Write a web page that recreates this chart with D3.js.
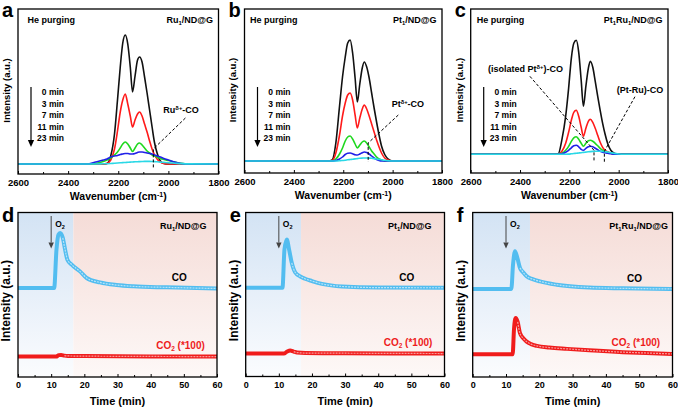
<!DOCTYPE html>
<html>
<head>
<meta charset="utf-8">
<script src="https://cdn.jsdelivr.net/npm/d3@7"></script>
<style>
  body { margin: 0; background: #fff; }
  text { font-family: Arial, "Liberation Sans", sans-serif; font-weight: bold; }
</style>
</head>
<body>
<svg id="fig" width="678" height="407"></svg>
<script>
// ---------- data ----------
// wavenumber grid (cm-1) shared by every DRIFTS spectrum
const wave = [2600, 2320, 2290, 2260, 2245, 2230, 2215, 2203, 2192, 2182, 2172, 2162, 2152, 2143, 2133,
              2123, 2115, 2105, 2095, 2085, 2075, 2065, 2055, 2045, 2032, 2018, 2000, 1975, 1950, 1920, 1800];

// (a) Ru1/ND@G, He purging 0 / 3 / 7 / 11 / 23 min
const ru0  = [0,0,0,0,0.5,8,30,64,97,121,129,120,97,72,88,104,107,102,87,71,54,37,21,11,3,0.5,0,0,0,0,0];
const ru3  = [0,0,0,0,0.5,4,15,33,52,64,70,60,48,37,44,50,52,48,40,32,23,15,9,5,2,0.5,0,0,0,0,0];
const ru7  = [0,0,0.5,2.5,4,6,9,12,16,20,22,20,16,12.5,16,20,21,19,16,13,11,9,8,7,5.5,4.5,3.5,2,0.7,0,0];
const ru11 = [0,0,2,4,5,7,8,8.5,9.5,10,10.5,10.5,10,10,10.5,11.5,12,12,11.5,11,10.5,10,9,8,7,5.5,4,2,0.5,0,0];
const ru23 = [0,0,0,0.2,0.3,0.5,0.8,1,1.2,1.4,1.5,1.7,1.9,2,2.2,2.3,2.4,2.5,2.6,2.6,2.6,2.5,2.4,2.2,1.9,1.6,1.2,0.8,0.4,0.1,0];

// (b) Pt1/ND@G
const pt0  = [0,0,0,0,1,18,55,84,104,118,121,108,83,59,77,93,99,94,83,68,53,39,26,15,6.5,2,0,0,0,0,0];
const pt3  = [0,0,0,0,0.5,8,26,45,58,66,68,61,46,33,43,52,56,52,45,37,29,21,14,8,3,1,0,0,0,0,0];
const pt7  = [0,0,0,0,0,2,7,13,20,24,25,22,17,13,16,19,20,18,14,10,7,4,2,1,0,0,0,0,0,0,0];
const pt11 = [0,0,0,0,0,0.5,2,4,6.5,7.8,8,7.3,6.3,6,7,8.3,9,8.5,7,5,3,1.5,0.5,0,0,0,0,0,0,0,0];
const pt23 = [0,0,0,0,0,0,0.2,0.5,0.8,1.2,1.5,1.8,2.1,2.4,2.7,2.9,3,3,2.9,2.7,2.4,2,1.6,1.2,0.7,0.3,0,0,0,0,0];

// (c) Pt1Ru1/ND@G
const ptru0  = [0,0,0,0,0.5,15,38,66,96,111,114,102,74,48,68,86,93,87,73,58,44,31,20,11,4,1,0,0,0,0,0];
const ptru3  = [0,0,0,0,0,3,11,22,34,42,44,38,27,18,26,33,35,32,26,19,12,7,4,2.5,1,0,0,0,0,0,0];
const ptru7  = [0,0,0,0,0,1,4,8,13,16.5,17.6,15,11,8,11,13.5,14,13,11,8.5,6,4,3,2,1,0.5,0,0,0,0,0];
const ptru11 = [0,0,0,0,0,0.5,2,4,6.5,8.5,9,7.5,5,4,6,7.5,8,7.5,6,4.5,3,2,1.5,1,0.5,0,0,0,0,0,0];
const ptru23 = [0,0,0,0,0,0,0,0.2,0.5,0.8,1,1.3,1.6,1.9,2.2,2.5,2.7,2.9,3,3,3,2.9,2.7,2.3,1.6,0.9,0.3,0,0,0,0];

const purgeLabels = ["0 min", "3 min", "7 min", "11 min", "23 min"];
const waveTicks = [2600, 2400, 2200, 2000, 1800];
const waveMinor = [2500, 2300, 2100, 1900];

// (d)-(f) mass-spec transients after O2 pulse (time in min, intensity a.u.)
const ruCOt   = [0, 10.9, 11.6, 12.2, 12.7, 13.5, 14.2, 14.9, 16.2, 18.7, 20.7, 24.7, 29.7, 34.8, 44.8, 60];
const ruCO    = [5.41, 5.41, 7.74, 8.66, 8.76, 8.46, 7.74, 7.13, 6.83, 6.42, 6.02, 5.75, 5.59, 5.51, 5.45, 5.38];
const ruCO2t  = [0, 11.5, 12.3, 13, 14, 15, 20, 40, 60];
const ruCO2   = [1.24, 1.24, 1.33, 1.34, 1.30, 1.28, 1.27, 1.25, 1.24];

const ptCOt   = [0, 11.1, 11.7, 12.4, 13.1, 13.9, 14.9, 16.5, 17.9, 20, 23, 29.1, 40, 60];
const ptCO    = [5.41, 5.41, 7.74, 8.35, 7.74, 6.93, 6.36, 6.1, 5.96, 5.82, 5.65, 5.49, 5.42, 5.41];
const ptCO2t  = [0, 11.5, 12.5, 13.4, 14.5, 15.5, 18, 30, 60];
const ptCO2   = [1.40, 1.40, 1.52, 1.59, 1.52, 1.46, 1.43, 1.42, 1.40];

const ptruCOt  = [0, 11.6, 12.1, 12.7, 13.4, 14.2, 15.2, 16.2, 18, 20.2, 25.2, 35, 45, 60];
const ptruCO   = [5.35, 5.35, 6.8, 7.64, 7.24, 6.63, 6.35, 6.12, 5.95, 5.81, 5.61, 5.44, 5.39, 5.35];
const ptruCO2t = [0, 12, 12.4, 12.9, 13.5, 14.2, 15.2, 16.2, 17.5, 19.3, 23, 28.3, 35, 45.1, 52, 60];
const ptruCO2  = [1.38, 1.38, 2.9, 3.58, 3.35, 2.66, 2.35, 2.15, 2.0, 1.89, 1.79, 1.71, 1.62, 1.51, 1.46, 1.40];

const o2Time = [10, 10, 10];          // O2 switched in
const shadeEnd = [16.7, 16.7, 17.2];  // end of blue (O2-rich) window
const timeTicks = [0, 10, 20, 30, 40, 50, 60];
const timeMinor = [5, 15, 25, 35, 45, 55];

// ---------- drawing ----------
const svg = d3.select("#fig");
const defs = svg.append("defs");
const specColors = ["#111111", "#ff1a1a", "#1fd81f", "#2020e8", "#2ad8e6"];

function gradient(id, top, bottom) {
  const lg = defs.append("linearGradient").attr("id", id)
    .attr("x1", 0).attr("y1", 0).attr("x2", 0).attr("y2", 1);
  lg.append("stop").attr("offset", "0%").attr("stop-color", top);
  lg.append("stop").attr("offset", "100%").attr("stop-color", bottom);
}
gradient("blueBg", "#d3e3f4", "#fbfcfe");
gradient("pinkBg", "#f5dcd7", "#fdf8f7");

// text with sub/superscript parts: [[string, "sub"|"sup"|undefined], ...]
function rich(g, x, y, parts, size, anchor, color) {
  const t = g.append("text").attr("x", x).attr("y", y)
    .attr("font-size", size).attr("text-anchor", anchor || "start")
    .attr("fill", color || "#000");
  parts.forEach(p => {
    const s = t.append("tspan").text(p[0]);
    if (p[1] === "sub") s.attr("font-size", size * 0.65).attr("baseline-shift", "-25%");
    if (p[1] === "sup") s.attr("font-size", size * 0.65).attr("baseline-shift", "45%");
  });
  return t;
}

function arrowDown(g, x, ya, yb, color, w, head) {
  g.append("line").attr("x1", x).attr("x2", x).attr("y1", ya).attr("y2", yb - head)
    .attr("stroke", color).attr("stroke-width", w);
  g.append("path").attr("d", `M${x - head * 0.45},${yb - head}L${x + head * 0.45},${yb - head}L${x},${yb}Z`)
    .attr("fill", color);
}

function bottomAxis(g, x, y1, ticks, minor, fmt, size) {
  g.append("g").attr("transform", `translate(0,${y1})`)
    .call(d3.axisBottom(x).tickValues(ticks).tickSize(-3).tickPadding(5).tickFormat(fmt))
    .call(a => a.select(".domain").remove())
    .call(a => a.selectAll("text").attr("font-size", size));
  g.append("g").attr("transform", `translate(0,${y1})`)
    .call(d3.axisBottom(x).tickValues(minor).tickSize(-2).tickFormat(""))
    .call(a => a.select(".domain").remove());
}

// ---- top row: DRIFTS spectra ----
const topPanels = [
  { letter: "a", box: [18, 218.5, 9, 174], yDom: [-10, 155], series: [ru0, ru3, ru7, ru11, ru23],
    sample: [["Ru"], ["1", "sub"], ["/ND@G"]], heDx: 9.5,
    notes: [{ text: [["Ru"], ["δ+", "sup"], ["-CO"]], at: [2020, 51], path: [[1932, 46], [2060, 15], [2060, -4]] }] },
  { letter: "b", box: [244.5, 442, 9, 173], yDom: [-12, 152], series: [pt0, pt3, pt7, pt11, pt23],
    sample: [["Pt"], ["1", "sub"], ["/ND@G"]], heDx: 5.5,
    notes: [{ text: [["Pt"], ["δ+", "sup"], ["-CO"]], at: [2004, 54], path: [[1977, 46], [2099, 18], [2099, -1]] }] },
  { letter: "c", box: [470.7, 668, 9, 173], yDom: [-18.7, 145.3], series: [ptru0, ptru3, ptru7, ptru11, ptru23],
    sample: [["Pt"], ["1", "sub"], ["Ru"], ["1", "sub"], ["/ND@G"]], heDx: 6,
    notes: [{ text: [["(isolated Pt"], ["δ+", "sup"], [")-CO"]], at: [2530, 82], path: [[2360, 78], [2100, 4], [2100, -8]] },
            { text: [["(Pt-Ru)-CO"]], at: [2008, 61], path: [[1934, 57.6], [2058, 3], [2058, -8]] }] }
];

topPanels.forEach(p => {
  const [x0, x1, y0, y1] = p.box;
  const x = d3.scaleLinear().domain([2600, 1800]).range([x0, x1]);
  const y = d3.scaleLinear().domain(p.yDom).range([y1, y0]);
  const g = svg.append("g");

  const line = d3.line().x((d, i) => x(wave[i])).y(d => y(d)).curve(d3.curveMonotoneX);
  p.series.forEach((s, i) => {
    g.append("path").datum(s).attr("d", line)
      .attr("fill", "none").attr("stroke", specColors[i]).attr("stroke-width", 1.6);
  });

  // dashed guide lines
  p.notes.forEach(n => {
    g.append("path").datum(n.path)
      .attr("d", d3.line().x(d => x(d[0])).y(d => y(d[1])))
      .attr("fill", "none").attr("stroke", "#000").attr("stroke-width", 1).attr("stroke-dasharray", "3,2");
    rich(g, x(n.at[0]), y(n.at[1]), n.text, 9, "start");
  });

  bottomAxis(g, x, y1, waveTicks, waveMinor, d3.format("d"), 9.5);
  g.append("rect").attr("x", x0).attr("y", y0).attr("width", x1 - x0).attr("height", y1 - y0)
    .attr("fill", "none").attr("stroke", "#000").attr("stroke-width", 1.3);

  // labels
  g.append("text").attr("x", x0 - 16).attr("y", y0 + 7.5).attr("font-size", 20).text(p.letter);
  g.append("text").attr("x", x0 + p.heDx).attr("y", y0 + 14).attr("font-size", 9).text("He purging");
  rich(g, x1 - 5.5, y0 + 14, p.sample, 9, "end");
  g.append("text").attr("x", (x0 + x1) / 2).attr("y", y1 + 26).attr("font-size", 10.5)
    .attr("text-anchor", "middle")
    .call(t => { t.append("tspan").text("Wavenumber (cm");
                 t.append("tspan").text("-1").attr("font-size", 7).attr("baseline-shift", "45%");
                 t.append("tspan").text(")"); });
  g.append("text").attr("transform", `translate(${x0 - 11.5},${(y0 + y1) / 2 - 1}) rotate(-90)`)
    .attr("dy", "0.35em").attr("text-anchor", "middle").attr("font-size", 9.5).text("Intensity (a.u.)");

  // legend of purge times
  purgeLabels.forEach((lab, i) => {
    g.append("text").attr("x", x0 + 46).attr("y", y0 + 86 + i * 11.5)
      .attr("text-anchor", "end").attr("font-size", 8.5).text(lab);
  });
  arrowDown(g, x0 + 13, y0 + 78, y0 + 138, "#000", 1.2, 7);
});

// ---- bottom row: CO / CO2 transients ----
const botPanels = [
  { box: [18, 217, 212.5, 377], co: [ruCOt, ruCO], co2: [ruCO2t, ruCO2],
    sample: [["Ru"], ["1", "sub"], ["/ND@G"]], sampleDx: 10.5 },
  { box: [245.7, 444.5, 212.5, 376.5], co: [ptCOt, ptCO], co2: [ptCO2t, ptCO2],
    sample: [["Pt"], ["1", "sub"], ["/ND@G"]], sampleDx: 13 },
  { box: [472.7, 672.5, 212.5, 377], co: [ptruCOt, ptruCO], co2: [ptruCO2t, ptruCO2],
    sample: [["Pt"], ["1", "sub"], ["Ru"], ["1", "sub"], ["/ND@G"]], sampleDx: 4.5 }
];
const botLetters = ["d", "e", "f"];

botPanels.forEach((p, k) => {
  const [x0, x1, y0, y1] = p.box;
  const x = d3.scaleLinear().domain([0, 60]).range([x0, x1]);
  const y = d3.scaleLinear().domain([0, 10]).range([y1, y0]);
  const g = svg.append("g");

  g.append("rect").attr("x", x(0)).attr("y", y0).attr("width", x(shadeEnd[k]) - x(0)).attr("height", y1 - y0)
    .attr("fill", "url(#blueBg)");
  g.append("rect").attr("x", x(shadeEnd[k])).attr("y", y0).attr("width", x(60) - x(shadeEnd[k])).attr("height", y1 - y0)
    .attr("fill", "url(#pinkBg)");

  const line = d3.line().x(d => x(d[0])).y(d => y(d[1])).curve(d3.curveMonotoneX);
  const draw = (ser, outer, inner) => {
    const pts = ser[0].map((t, i) => [t, ser[1][i]]);
    g.append("path").datum(pts).attr("d", line).attr("fill", "none")
      .attr("stroke", outer).attr("stroke-width", 4).attr("stroke-linejoin", "round");
    g.append("path").datum(pts.filter(d => d[0] >= 13.5)).attr("d", line).attr("fill", "none")
      .attr("stroke", inner).attr("stroke-width", 1.2).attr("stroke-dasharray", "2,1");
  };
  draw(p.co, "#52bdf0", "#b8e3f8");
  draw(p.co2, "#f01c1c", "#f79a9a");

  bottomAxis(g, x, y1, timeTicks, timeMinor, d3.format("d"), 9);
  g.append("rect").attr("x", x0).attr("y", y0).attr("width", x1 - x0).attr("height", y1 - y0)
    .attr("fill", "none").attr("stroke", "#000").attr("stroke-width", 1.3);

  // O2 arrow
  arrowDown(g, x(o2Time[k]), y0 + 3.5, y0 + 36, "#444", 1, 6);
  rich(g, x(o2Time[k]) + 4, y0 + 14.5, [["O"], ["2", "sub"]], 8.5, "start");

  g.append("text").attr("x", x0 - 16).attr("y", y0 + 9).attr("font-size", 20).text(botLetters[k]);
  rich(g, x1 - p.sampleDx, y0 + 16.5, p.sample, 9, "end");
  g.append("text").attr("x", x(48.6)).attr("y", y(p.co[1][p.co[1].length - 1]) - 7)
    .attr("text-anchor", "middle").attr("font-size", 10).text("CO");
  rich(g, x(49), y(p.co2[1][p.co2[1].length - 1]) - 8, [["CO"], ["2", "sub"], [" (*100)"]], 10, "middle", "#ee1c1c");

  g.append("text").attr("x", (x0 + x1) / 2).attr("y", y1 + 28).attr("font-size", 11)
    .attr("text-anchor", "middle").text("Time (min)");
  g.append("text").attr("transform", `translate(${x0 - 12},${(y0 + y1) / 2 + 6}) rotate(-90)`)
    .attr("dy", "0.35em").attr("text-anchor", "middle").attr("font-size", 12).text("Intensity (a.u.)");
});
</script>
</body>
</html>
